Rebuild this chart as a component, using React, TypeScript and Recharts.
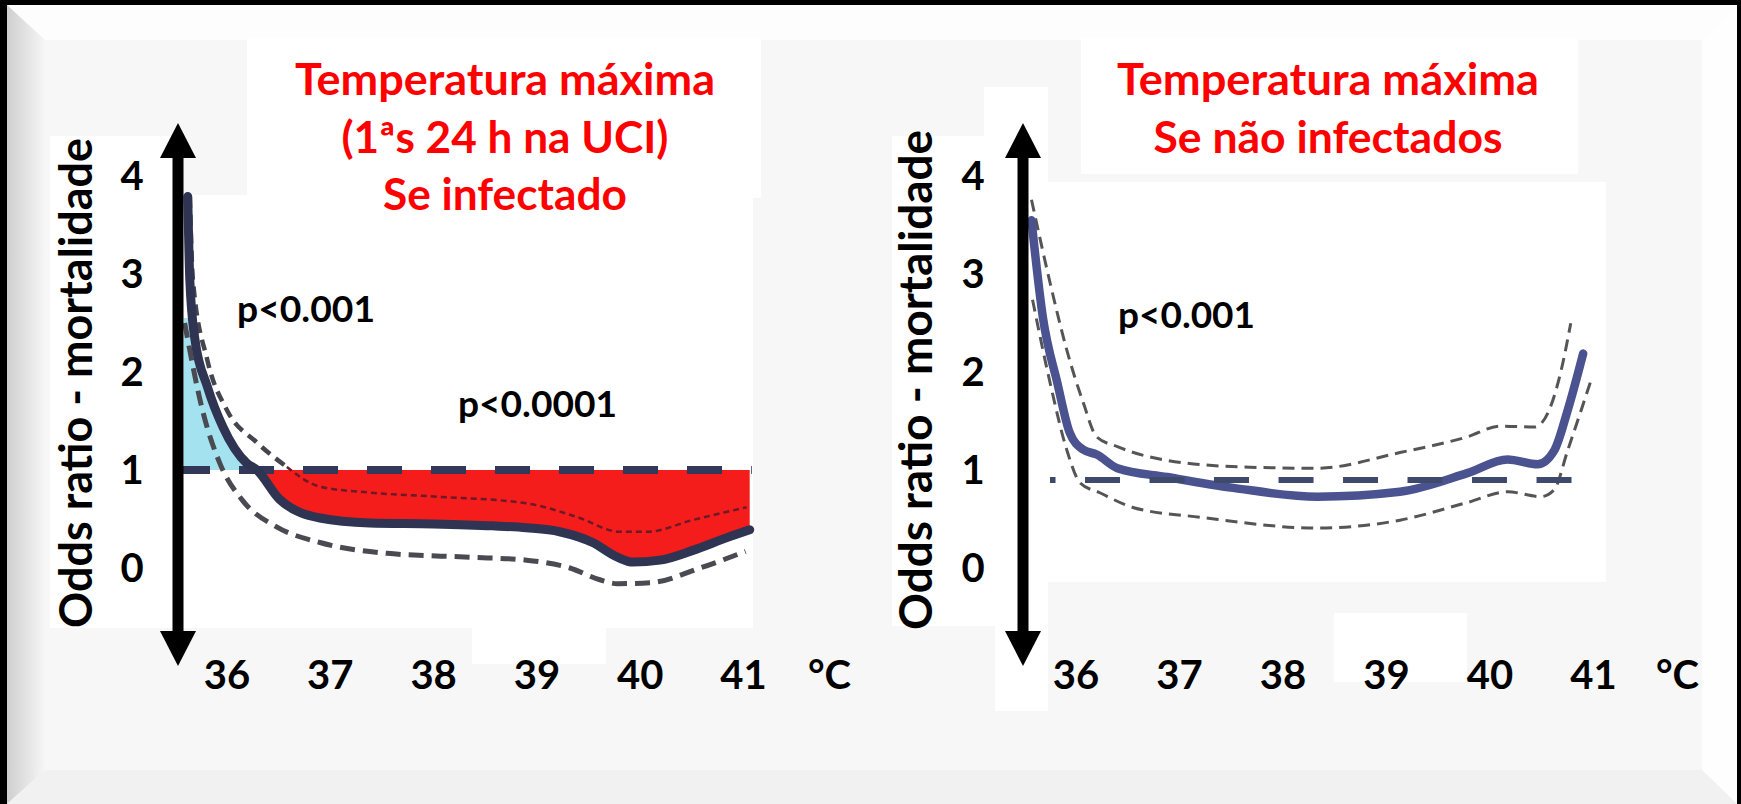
import React from "react";
import { ComposedChart, Line, Area, XAxis, YAxis } from "recharts";

// ---------- data ----------
const X_TICKS = [36, 37, 38, 39, 40, 41];
const Y_TICKS = [0, 1, 2, 3, 4];
const X_DOMAIN = [35.5, 41.2];
const Y_DOMAIN = [-1, 4.5];

// Left panel: infected
const LEFT_SOLID = [
  { x: 35.62, y: 3.79 }, { x: 35.64, y: 2.94 }, { x: 35.69, y: 2.33 }, { x: 35.81, y: 1.85 },
  { x: 35.96, y: 1.44 }, { x: 36.19, y: 1.07 }, { x: 36.29, y: 1.0 }, { x: 36.51, y: 0.7 },
  { x: 36.9, y: 0.51 }, { x: 37.38, y: 0.46 }, { x: 38.0, y: 0.45 }, { x: 38.57, y: 0.43 },
  { x: 38.9, y: 0.41 }, { x: 39.22, y: 0.37 }, { x: 39.54, y: 0.26 }, { x: 39.78, y: 0.11 },
  { x: 39.93, y: 0.06 }, { x: 40.19, y: 0.08 }, { x: 40.51, y: 0.18 }, { x: 40.84, y: 0.31 },
  { x: 41.06, y: 0.39 },
];
const LEFT_UPPER_A = [
  { x: 35.64, y: 3.79 }, { x: 35.67, y: 2.94 }, { x: 35.81, y: 2.12 }, { x: 36.0, y: 1.61 },
  { x: 36.29, y: 1.28 }, { x: 36.58, y: 1.03 },
];
const LEFT_UPPER_B = [
  { x: 36.58, y: 1.03 }, { x: 36.9, y: 0.83 }, { x: 37.38, y: 0.77 }, { x: 38.0, y: 0.73 },
  { x: 38.9, y: 0.66 }, { x: 39.39, y: 0.52 }, { x: 39.8, y: 0.37 }, { x: 40.07, y: 0.37 },
  { x: 40.51, y: 0.49 }, { x: 41.03, y: 0.62 },
];
const LEFT_LOWER = [
  { x: 35.59, y: 2.5 }, { x: 35.77, y: 1.58 }, { x: 35.93, y: 1.07 }, { x: 36.15, y: 0.69 },
  { x: 36.48, y: 0.42 }, { x: 36.9, y: 0.26 }, { x: 37.55, y: 0.15 }, { x: 38.35, y: 0.11 },
  { x: 38.9, y: 0.08 }, { x: 39.32, y: 0.0 }, { x: 39.61, y: -0.12 }, { x: 39.78, y: -0.16 },
  { x: 40.1, y: -0.15 }, { x: 40.58, y: 0.0 }, { x: 41.02, y: 0.17 },
];
const LEFT_REF = [{ x: 35.574, y: 1 }, { x: 41.08, y: 1 }];
const BLUE_START_X = 35.58;
const BLUE_CAP = 2.55;
const CROSS_X = 36.29;

// Right panel: not infected
const RIGHT_SOLID = [
  { x: 35.57, y: 3.65 }, { x: 35.68, y: 2.66 }, { x: 35.82, y: 1.99 }, { x: 35.94, y: 1.48 },
  { x: 36.07, y: 1.31 }, { x: 36.2, y: 1.26 }, { x: 36.4, y: 1.12 }, { x: 36.88, y: 1.03 },
  { x: 37.52, y: 0.92 }, { x: 38.33, y: 0.83 }, { x: 39.13, y: 0.88 }, { x: 39.78, y: 1.07 },
  { x: 40.17, y: 1.21 }, { x: 40.46, y: 1.16 }, { x: 40.62, y: 1.3 }, { x: 40.75, y: 1.71 },
  { x: 40.9, y: 2.29 },
];
const RIGHT_UPPER = [
  { x: 35.57, y: 3.86 }, { x: 35.75, y: 3.01 }, { x: 35.91, y: 2.33 }, { x: 36.07, y: 1.79 },
  { x: 36.2, y: 1.44 }, { x: 36.4, y: 1.34 }, { x: 36.88, y: 1.2 }, { x: 37.68, y: 1.13 },
  { x: 38.33, y: 1.12 }, { x: 39.13, y: 1.28 }, { x: 39.78, y: 1.44 }, { x: 40.1, y: 1.55 },
  { x: 40.43, y: 1.54 }, { x: 40.57, y: 1.71 }, { x: 40.69, y: 2.13 }, { x: 40.78, y: 2.6 },
];
const RIGHT_LOWER = [
  { x: 35.58, y: 2.84 }, { x: 35.75, y: 1.99 }, { x: 35.91, y: 1.31 }, { x: 36.04, y: 0.97 },
  { x: 36.23, y: 0.87 }, { x: 36.55, y: 0.72 }, { x: 37.2, y: 0.62 }, { x: 38.33, y: 0.51 },
  { x: 39.13, y: 0.59 }, { x: 39.78, y: 0.77 }, { x: 40.17, y: 0.88 }, { x: 40.49, y: 0.83 },
  { x: 40.62, y: 0.9 }, { x: 40.75, y: 1.3 }, { x: 40.88, y: 1.71 }, { x: 40.98, y: 2.03 },
];
const RIGHT_REF = [{ x: 35.749, y: 1 }, { x: 40.82, y: 1 }];

// Texts
const LEFT_TITLE = ["Temperatura máxima", "(1ªs 24 h na UCI)", "Se infectado"];
const RIGHT_TITLE = ["Temperatura máxima", "Se não infectados"];
const Y_TITLE = "Odds ratio - mortalidade";
const UNIT = "°C";

// derived fill data
const RED_DATA = LEFT_SOLID.filter((d) => d.x >= CROSS_X).map((d) => ({ x: d.x, range: [d.y, 1] }));
const BLUE_DATA = [
  { x: BLUE_START_X, range: [1, BLUE_CAP] },
  ...LEFT_SOLID.filter((d) => d.x <= CROSS_X).map((d) => ({ x: d.x, range: [1, Math.min(d.y, BLUE_CAP)] })),
];

const FONT = "Lato, 'Open Sans', sans-serif";

function makeYTick(labelX: number, dy: number) {
  return (props: any) => (
    <text x={labelX} y={props.y + 14 + dy} textAnchor="middle" fontFamily={FONT} fontWeight={700} fontSize={40} fill="#000">
      {props.payload.value}
    </text>
  );
}
const XTick = (props: any) => (
  <text x={props.x} y={689} textAnchor="middle" fontFamily={FONT} fontWeight={700} fontSize={40} fill="#000">
    {props.payload.value}
  </text>
);

const common = { isAnimationActive: false, dot: false, activeDot: false } as any;

function Frame() {
  return (
    <svg width={1741} height={804} style={{ position: "absolute", left: 0, top: 0 }}>
      <defs>
        <linearGradient id="lb" x1="0" x2="1" y1="0" y2="0">
          <stop offset="0" stopColor="#cfcfcf" />
          <stop offset="1" stopColor="#f6f6f6" />
        </linearGradient>
      </defs>
      <rect x={0} y={0} width={1741} height={804} fill="#f7f7f7" />
      <polygon points="7,5 1737,5 1702,40 45,40" fill="#fdfdfd" />
      <polygon points="7,5 45,40 45,770 7,804" fill="url(#lb)" />
      <polygon points="1737,5 1737,804 1702,770 1702,40" fill="#fefefe" />
      <polygon points="7,804 1737,804 1702,770 45,770" fill="#f1f1f1" />
      <rect x={0} y={0} width={1741} height={5} fill="#000" />
      <rect x={0} y={0} width={7} height={804} fill="#000" />
      <rect x={1737} y={0} width={4} height={804} fill="#000" />
      {/* white pasted regions, left */}
      <rect x={247} y={38} width={514} height={160} fill="#fff" />
      <rect x={183} y={195} width={570} height={433} fill="#fff" />
      <rect x={50} y={136} width={133} height={492} fill="#fff" />
      <rect x={472} y={628} width={134} height={36} fill="#fff" />
      {/* white pasted regions, right */}
      <rect x={1081} y={38} width={497} height={136} fill="#fff" />
      <rect x={1048} y={182} width={558} height={400} fill="#fff" />
      <rect x={892} y={136} width={156} height={490} fill="#fff" />
      <rect x={984} y={87} width={64} height={49} fill="#fff" />
      <rect x={995} y={626} width={53} height={85} fill="#fff" />
      <rect x={1334} y={613} width={133} height={69} fill="#fff" />
    </svg>
  );
}

function Arrow({ x }: { x: number }) {
  return (
    <g>
      <rect x={x - 5.5} y={150} width={11} height={490} fill="#000" />
      <polygon points={`${x},123 ${x - 18},158 ${x + 18},158`} fill="#000" />
      <polygon points={`${x},666 ${x - 18},631 ${x + 18},631`} fill="#000" />
    </g>
  );
}

function Overlay() {
  const t = { fontFamily: FONT, fontWeight: 700 } as any;
  return (
    <svg width={1741} height={804} style={{ position: "absolute", left: 0, top: 0, pointerEvents: "none" }}>
      <Arrow x={178} />
      <Arrow x={1023} />
      {LEFT_TITLE.map((s, i) => (
        <text key={s} x={505} y={95 + i * 57.5} textAnchor="middle" fontSize={43} fill="#ff0000" {...t}
          textLength={[420, 327, 244][i]} lengthAdjust="spacingAndGlyphs">{s}</text>
      ))}
      {RIGHT_TITLE.map((s, i) => (
        <text key={s} x={1328} y={95 + i * 57.5} textAnchor="middle" fontSize={43} fill="#ff0000" {...t}
          textLength={[422, 349][i]} lengthAdjust="spacingAndGlyphs">{s}</text>
      ))}
      <text transform="translate(92,383) rotate(-90)" textAnchor="middle" fontSize={45} fill="#000" {...t}
        textLength={490} lengthAdjust="spacingAndGlyphs">{Y_TITLE}</text>
      <text transform="translate(932,380) rotate(-90)" textAnchor="middle" fontSize={45} fill="#000" {...t}
        textLength={500} lengthAdjust="spacingAndGlyphs">{Y_TITLE}</text>
      <text x={237} y={322} fontSize={36} fill="#000" {...t} textLength={138} lengthAdjust="spacingAndGlyphs">p&lt;0.001</text>
      <text x={458} y={417} fontSize={36} fill="#000" {...t} textLength={159} lengthAdjust="spacingAndGlyphs">p&lt;0.0001</text>
      <text x={1118} y={328} fontSize={36} fill="#000" {...t} textLength={137} lengthAdjust="spacingAndGlyphs">p&lt;0.001</text>
      <text x={808} y={689} fontSize={40} fill="#000" {...t}>{UNIT}</text>
      <text x={1656} y={689} fontSize={40} fill="#000" {...t}>{UNIT}</text>
    </svg>
  );
}

function LeftChart() {
  return (
    <div style={{ position: "absolute", left: 0, top: 0 }}>
      <ComposedChart width={870} height={804} margin={{ top: 127, right: 105.84, bottom: 98, left: 135.35 }}>
        <XAxis type="number" dataKey="x" domain={X_DOMAIN} ticks={X_TICKS} allowDataOverflow height={40}
          axisLine={false} tickLine={false} tick={XTick} interval={0} />
        <YAxis type="number" domain={Y_DOMAIN} ticks={Y_TICKS} allowDataOverflow width={40}
          axisLine={false} tickLine={false} tick={makeYTick(132, 0)} interval={0} />
        <Area {...common} data={BLUE_DATA} dataKey="range" type="monotone" stroke="none" fill="#a3e2ee" fillOpacity={1} />
        <Area {...common} data={RED_DATA} dataKey="range" type="monotone" stroke="none" fill="#f51c1c" fillOpacity={1} />
        <Line {...common} data={LEFT_REF} dataKey="y" type="linear" stroke="#323859" strokeWidth={8}
          strokeDasharray="35 29" strokeDashoffset={8} />
        <Line {...common} data={LEFT_LOWER} dataKey="y" type="monotone" stroke="#4a4a52" strokeWidth={5}
          strokeDasharray="15 8" />
        <Line {...common} data={LEFT_UPPER_A} dataKey="y" type="monotone" stroke="#45454f" strokeWidth={4.5}
          strokeDasharray="11 7" />
        <Line {...common} data={LEFT_UPPER_B} dataKey="y" type="monotone" stroke="#6a1a28" strokeWidth={2.5}
          strokeDasharray="6 4" />
        <Line {...common} data={LEFT_SOLID} dataKey="y" type="monotone" stroke="#2f3452" strokeWidth={9}
          strokeLinecap="round" />
      </ComposedChart>
    </div>
  );
}

function RightChart() {
  return (
    <div style={{ position: "absolute", left: 870, top: 0 }}>
      <ComposedChart width={871} height={804} margin={{ top: 137, right: 126.8, bottom: 88, left: 114.25 }}>
        <XAxis type="number" dataKey="x" domain={X_DOMAIN} ticks={X_TICKS} allowDataOverflow height={40}
          axisLine={false} tickLine={false} tick={XTick} interval={0} />
        <YAxis type="number" domain={Y_DOMAIN} ticks={Y_TICKS} allowDataOverflow width={40}
          axisLine={false} tickLine={false} tick={makeYTick(103, -10)} interval={0} />
        <Line {...common} data={RIGHT_UPPER} dataKey="y" type="monotone" stroke="#555" strokeWidth={3}
          strokeDasharray="12 7" />
        <Line {...common} data={RIGHT_LOWER} dataKey="y" type="monotone" stroke="#555" strokeWidth={3}
          strokeDasharray="12 7" />
        <Line {...common} data={RIGHT_SOLID} dataKey="y" type="monotone" stroke="#4b5290" strokeWidth={8.5}
          strokeLinecap="round" />
        <Line {...common} data={RIGHT_REF} dataKey="y" type="linear" stroke="#3e4a6c" strokeWidth={6}
          strokeDasharray="35 29.5" strokeDashoffset={29.5} />
      </ComposedChart>
    </div>
  );
}

export default function App() {
  return (
    <div style={{ position: "absolute", left: 0, top: 0, width: 1741, height: 804, overflow: "hidden" }}>
      <Frame />
      <LeftChart />
      <RightChart />
      <Overlay />
    </div>
  );
}
